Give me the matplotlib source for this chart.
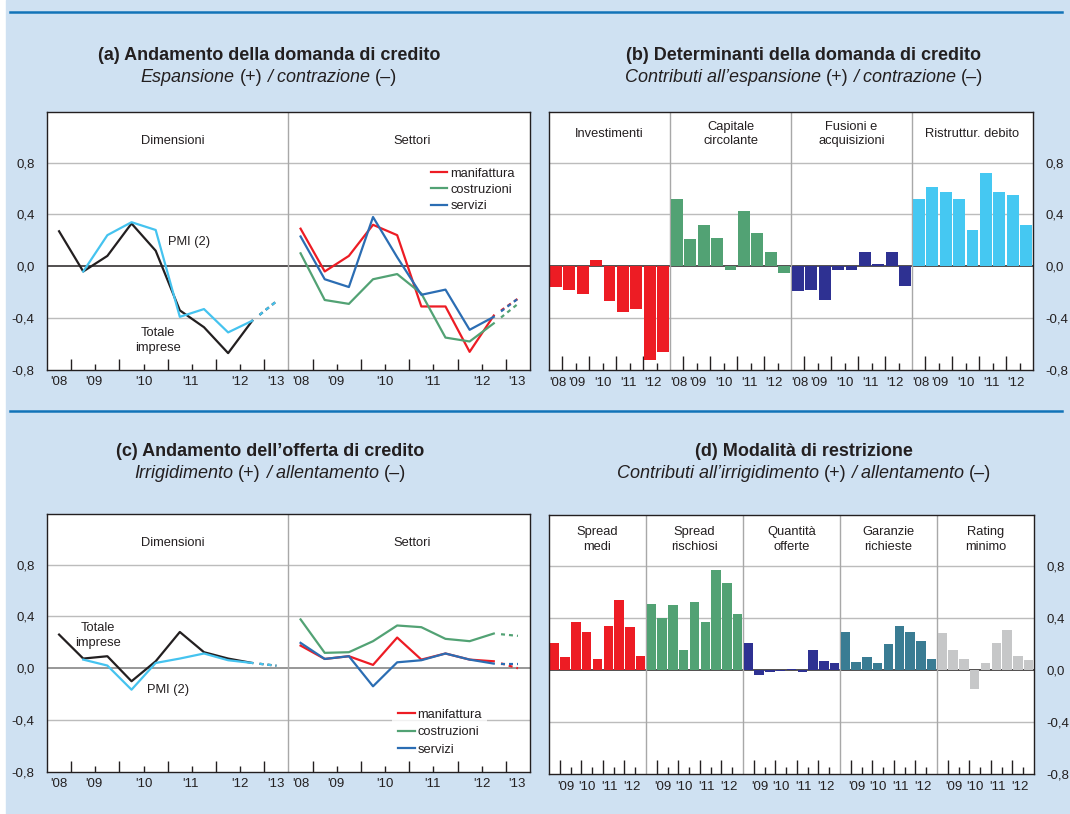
import numpy as np
import matplotlib.pyplot as plt
from matplotlib.patches import Rectangle
from matplotlib.lines import Line2D

plt.rcParams['font.family'] = ['Liberation Sans', 'DejaVu Sans']

# ---- data (semestral, 2008 H2 .. 2012 H2, plus forecast 2013 H1) ----
years_line = ["'08", "'09", "'10", "'11", "'12", "'13"]
years_bar_b = ["'08", "'09", "'10", "'11", "'12"]
years_bar_d = ["'09", "'10", "'11", "'12"]

# (a) demand
dom_totale = [0.27, -0.04, 0.08, 0.33, 0.12, -0.34, -0.47, -0.67, -0.42]
dom_pmi = [np.nan, -0.04, 0.24, 0.34, 0.28, -0.39, -0.33, -0.51, -0.42]
dom_manif = [0.29, -0.04, 0.08, 0.32, 0.24, -0.31, -0.31, -0.66, -0.38]
dom_costr = [0.10, -0.26, -0.29, -0.10, -0.06, -0.21, -0.55, -0.58, -0.44]
dom_serv = [0.23, -0.10, -0.16, 0.38, 0.07, -0.22, -0.18, -0.49, -0.39]
dom_prev = {'totale': -0.27, 'pmi': -0.27, 'manif': -0.25, 'costr': -0.29, 'serv': -0.25}

# (b) demand determinants
det_labels = ['Investimenti', 'Capitale\ncircolante', 'Fusioni e\nacquisizioni', 'Ristruttur. debito']
det_invest = [-0.16, -0.18, -0.21, 0.05, -0.27, -0.35, -0.33, -0.72, -0.66]
det_capit = [0.52, 0.21, 0.32, 0.22, -0.03, 0.43, 0.26, 0.11, -0.05]
det_fusioni = [-0.19, -0.18, -0.26, -0.03, -0.03, 0.11, 0.02, 0.11, -0.15]
det_ristr = [0.52, 0.61, 0.57, 0.52, 0.28, 0.72, 0.57, 0.55, 0.32]

# (c) supply
off_totale = [0.26, 0.075, 0.093, -0.10, 0.054, 0.28, 0.124, 0.075, 0.041]
off_pmi = [np.nan, 0.067, 0.021, -0.165, 0.041, 0.075, 0.114, 0.062, 0.041]
off_manif = [0.175, 0.072, 0.093, 0.026, 0.237, 0.067, 0.114, 0.067, 0.054]
off_costr = [0.377, 0.119, 0.124, 0.209, 0.33, 0.317, 0.227, 0.209, 0.268]
off_serv = [0.196, 0.072, 0.093, -0.139, 0.046, 0.062, 0.114, 0.067, 0.036]
off_prev = {'totale': 0.02, 'pmi': 0.02, 'manif': 0.0, 'costr': 0.25, 'serv': 0.036}

# (d) restriction modes
mod_labels = ['Spread\nmedi', 'Spread\nrischiosi', 'Quantità\nofferte', 'Garanzie\nrichieste', 'Rating\nminimo']
mod_spread_medi = [0.21, 0.10, 0.37, 0.29, 0.08, 0.34, 0.54, 0.33, 0.11]
mod_spread_risc = [0.51, 0.40, 0.50, 0.15, 0.52, 0.37, 0.77, 0.67, 0.43]
mod_quantita = [0.21, -0.04, -0.015, -0.005, 0.005, -0.02, 0.15, 0.07, 0.055]
mod_garanzie = [0.29, 0.06, 0.10, 0.055, 0.20, 0.34, 0.29, 0.22, 0.085]
mod_rating = [0.28, 0.15, 0.085, -0.15, 0.055, 0.21, 0.31, 0.11, 0.075]

# ---- styling ----
W, H = 1070, 814
BG = '#cfe1f2'
TXT = '#231f20'
GRID = '#bcbcbc'
DIV = '#a8a8a8'
RED = '#ed1c24'
GREEN = '#52a274'
BLUE = '#2b6db3'
CYAN = '#45c3ef'
NAVY = '#2e3192'
SKY = '#45c8f2'
TEAL = '#3a7c93'
GREY = '#c6c7c8'
YT = [-0.8, -0.4, 0.0, 0.4, 0.8]
YLIM = (-0.8, 1.19)
FS = 9.5

fig = plt.figure(figsize=(W / 100, H / 100), dpi=100, facecolor='white')
fig.patches.append(Rectangle((6 / W, 0), 1, 1, transform=fig.transFigure, color=BG, zorder=-10))
for yy in (12, 411):
    fig.lines.append(Line2D([10 / W, 1062 / W], [1 - yy / H] * 2, transform=fig.transFigure,
                            color='#1273b8', lw=1.8))


def px_axes(x0, y0, x1, y1):
    return fig.add_axes([x0 / W, 1 - y1 / H, (x1 - x0) / W, (y1 - y0) / H])


def fmt(v):
    return f'{v:.1f}'.replace('.', ',')


def base_axes(ax, right=False, zero_color=TXT):
    ax.set_ylim(*YLIM)
    for s in ax.spines.values():
        s.set_color(TXT)
        s.set_linewidth(1)
    for g in (0.8, 0.4, -0.4):
        ax.axhline(g, color=GRID, lw=1, zorder=0)
    ax.axhline(0, color=zero_color, lw=1.1, zorder=1)
    ax.set_yticks(YT)
    ax.set_yticklabels([fmt(v) for v in YT])
    ax.tick_params(axis='y', length=0, pad=9, labelsize=FS, labelcolor=TXT)
    if right:
        ax.yaxis.tick_right()


def x_ticks(ax, long_pos, short_pos, long_len, short_len):
    ax.set_xticks(long_pos)
    ax.set_xticks(short_pos, minor=True)
    ax.tick_params(axis='x', which='major', direction='in', length=long_len, width=1,
                   color=TXT, labelbottom=False)
    ax.tick_params(axis='x', which='minor', direction='in', length=short_len, width=1,
                   color=TXT, labelbottom=False)


def year_labels(ax, pos, labels, off):
    for p, lab in zip(pos, labels):
        ax.text(p, off, lab, transform=ax.get_xaxis_transform(), ha='center', va='center',
                fontsize=FS, color=TXT)


def mixed_line(xc, yb, pieces, size=13):
    r = fig.canvas.get_renderer()

    def width(s, style):
        t = fig.text(0, 0, s, fontsize=size, style=style)
        w = t.get_window_extent(r).width
        t.remove()
        return w

    space = width('a a', 'normal') - width('aa', 'normal')
    widths = [width(s, st) for s, st in pieces]
    x = xc - (sum(widths) + space * (len(pieces) - 1)) / 2
    for (s, st), w in zip(pieces, widths):
        fig.text(x / W, 1 - yb / H, s, fontsize=size, style=st, ha='left', va='baseline', color=TXT)
        x += w + space


def title(xc, yb, text):
    fig.text(xc / W, 1 - yb / H, text, fontsize=13, weight='bold', ha='center', va='baseline', color=TXT)


def forecast(ax, x0, y0, x1, y1, color):
    # dashed stretch towards the forecast, starting a little after the last observation
    xs = x0 + 0.3 * (x1 - x0)
    ys = y0 + 0.3 * (y1 - y0)
    ax.plot([xs, x1], [ys, y1], color=color, lw=1.6, linestyle=(0, (1.8, 1.8)), zorder=3)


# ---- line panels (a) and (c) ----
xl = np.arange(9)
line_lab_pos = [0, 1.45, 3.5, 5.45, 7.5, 8.97]


def line_panel(ax, totale, pmi, manif, costr, serv, prev, zero_color):
    base_axes(ax, zero_color=zero_color)
    ax.set_xlim(-0.5, 19.5)
    ax.axvline(9.5, color=DIV, lw=1, zorder=1)
    long_pos = [0.5, 2.5, 4.5, 6.5, 8.5]
    short_pos = [1.5, 3.5, 5.5, 7.5]
    x_ticks(ax, long_pos + [p + 10 for p in long_pos], short_pos + [p + 10 for p in short_pos], 8, 4)
    year_labels(ax, line_lab_pos + [p + 10 for p in line_lab_pos], years_line * 2, -0.047)
    ax.plot(xl, totale, color=TXT, lw=1.6, zorder=3)
    ax.plot(xl, pmi, color=CYAN, lw=1.6, zorder=4)
    forecast(ax, 8, totale[-1], 9, prev['totale'], TXT)
    forecast(ax, 8, pmi[-1], 9, prev['pmi'], CYAN)
    xr = xl + 10
    for vals, key, c, lab in ((manif, 'manif', RED, 'manifattura'),
                              (costr, 'costr', GREEN, 'costruzioni'),
                              (serv, 'serv', BLUE, 'servizi')):
        ax.plot(xr, vals, color=c, lw=1.6, zorder=3, label=lab)
        forecast(ax, 18, vals[-1], 19, prev[key], c)
    ax.text(4.7, 0.97, 'Dimensioni', ha='center', va='center', fontsize=9.3, color=TXT)
    ax.text(14.6, 0.97, 'Settori', ha='center', va='center', fontsize=9.3, color=TXT)


ax_a = px_axes(47, 112, 530, 370)
line_panel(ax_a, dom_totale, dom_pmi, dom_manif, dom_costr, dom_serv, dom_prev, TXT)
ax_a.text(5.4, 0.185, 'PMI (2)', ha='center', va='center', fontsize=9.3, color=TXT)
ax_a.text(4.1, -0.57, 'Totale\nimprese', ha='center', va='center', fontsize=9.3, color=TXT,
          linespacing=1.35)
ax_a.legend(loc='upper left', bbox_to_anchor=(0.795, 0.785), frameon=False, fontsize=9.3,
            handlelength=1.25, handletextpad=0.25, labelspacing=0.33, borderpad=0,
            borderaxespad=0, labelcolor=TXT)

ax_c = px_axes(47, 514, 530, 772)
line_panel(ax_c, off_totale, off_pmi, off_manif, off_costr, off_serv, off_prev, '#7a7a7a')
ax_c.text(1.6, 0.25, 'Totale\nimprese', ha='center', va='center', fontsize=9.3, color=TXT,
          linespacing=1.35)
ax_c.text(4.5, -0.165, 'PMI (2)', ha='center', va='center', fontsize=9.3, color=TXT)
leg = ax_c.legend(loc='upper left', bbox_to_anchor=(0.715, 0.265), frameon=True, fontsize=9.3,
                  handlelength=1.35, handletextpad=0.2, labelspacing=0.42, borderpad=0.4,
                  borderaxespad=0, labelcolor=TXT, fancybox=False)
leg.get_frame().set_facecolor('white')
leg.get_frame().set_edgecolor('none')

# ---- bar panels (b) and (d) ----
xb = np.arange(9)


def bar_panel(ax, series, colors, labels, year_lab, year_pos, lab_y, long_len, short_len):
    n = len(series)
    base_axes(ax, right=True)
    ax.set_xlim(-0.5, 9 * n - 0.5)
    long_pos, short_pos = [], []
    for k in range(n):
        off = 9 * k
        ax.bar(xb + off, series[k], width=0.88, color=colors[k], zorder=2)
        ax.text(4 + off, lab_y, labels[k], ha='center', va='center', fontsize=9.3, color=TXT,
                linespacing=1.3)
        long_pos += [off + p for p in (0.5, 2.5, 4.5, 6.5)]
        short_pos += [off + p for p in (1.5, 3.5, 5.5, 7.5)]
        year_labels(ax, [off + p for p in year_pos], year_lab, -0.05)
        if k > 0:
            ax.axvline(off - 0.5, color=DIV, lw=1, zorder=1)
    x_ticks(ax, long_pos, short_pos, long_len, short_len)


ax_b = px_axes(549, 112, 1033, 370)
bar_panel(ax_b, [det_invest, det_capit, det_fusioni, det_ristr], [RED, GREEN, NAVY, SKY],
          det_labels, years_bar_b, [0.15, 1.55, 3.5, 5.4, 7.2], 1.02, 10, 5)

ax_d = px_axes(549, 515, 1034, 774)
bar_panel(ax_d, [mod_spread_medi, mod_spread_risc, mod_quantita, mod_garanzie, mod_rating],
          [RED, GREEN, NAVY, TEAL, GREY], mod_labels, years_bar_d, [1.1, 3.0, 5.15, 7.15],
          1.0, 10, 5)

# ---- titles ----
title(269, 60, '(a) Andamento della domanda di credito')
mixed_line(269, 82, [('Espansione', 'italic'), ('(+)', 'normal'), ('/ contrazione', 'italic'),
                     ('(–)', 'normal')])
title(804, 60, '(b) Determinanti della domanda di credito')
mixed_line(804, 82, [('Contributi all’espansione', 'italic'), ('(+)', 'normal'),
                     ('/ contrazione', 'italic'), ('(–)', 'normal')])
title(270, 456, '(c) Andamento dell’offerta di credito')
mixed_line(270, 478, [('Irrigidimento', 'italic'), ('(+)', 'normal'), ('/ allentamento', 'italic'),
                      ('(–)', 'normal')])
title(804, 456, '(d) Modalità di restrizione')
mixed_line(804, 478, [('Contributi all’irrigidimento', 'italic'), ('(+)', 'normal'),
                      ('/ allentamento', 'italic'), ('(–)', 'normal')])

fig.savefig('out.png', dpi=100, facecolor=fig.get_facecolor())
